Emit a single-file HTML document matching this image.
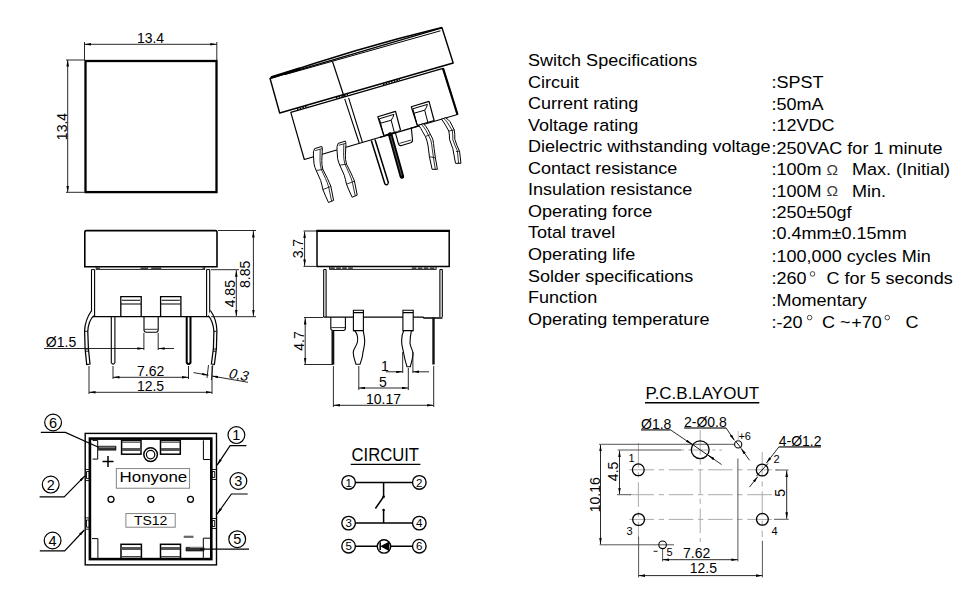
<!DOCTYPE html>
<html><head><meta charset="utf-8">
<style>
html,body{margin:0;padding:0;background:#fff;width:980px;height:597px;overflow:hidden;}
svg{display:block;}
text{font-family:"Liberation Sans",sans-serif;fill:#000;}
.t{stroke:#000;stroke-width:2;fill:none;}
.m{stroke:#000;stroke-width:1.3;fill:none;}
.n{stroke:#000;stroke-width:1;fill:none;}
.d{stroke:#111;stroke-width:0.9;fill:none;}
.g{stroke:#888;stroke-width:0.9;fill:none;}
.w{fill:#fff;stroke:#000;stroke-width:1.1;}
.sp{font-size:17px;}
.dm{font-size:14px;}
</style></head>
<body>
<svg width="980" height="597" viewBox="0 0 980 597">
<defs>
<marker id="a" viewBox="0 0 10 4" refX="10" refY="2" markerWidth="6.5" markerHeight="2.6" orient="auto-start-reverse" markerUnits="userSpaceOnUse"><path d="M0,0 L10,2 L0,4 z" fill="#000"/></marker>
</defs>

<!-- ============ TOP-LEFT SQUARE ============ -->
<g id="sq">
<rect x="85.5" y="61" width="131" height="131.1" class="t" style="stroke-width:2.3"/>
<path class="d" d="M84.5 42V60M216.8 42V60M66 60H84.5M66 192.3H84.5"/>
<path class="d" d="M84.5 44.3H216.8" marker-start="url(#a)" marker-end="url(#a)"/>
<path class="d" d="M67.7 60V192.3" marker-start="url(#a)" marker-end="url(#a)"/>
<text class="dm" x="150.5" y="43" text-anchor="middle">13.4</text>
<text class="dm" transform="translate(67,126.5) rotate(-90)" text-anchor="middle">13.4</text>
</g>

<!-- ============ SPEC TEXT ============ -->
<g class="sp" transform="matrix(1.062,0,0,1,-32.74,0)">
<text x="528" y="66.1">Switch Specifications</text>
<text x="528" y="87.7">Circuit</text>
<text x="528" y="109.2">Current rating</text>
<text x="528" y="130.8">Voltage rating</text>
<text x="528" y="152.3">Dielectric withstanding voltage</text>
<text x="528" y="173.9">Contact resistance</text>
<text x="528" y="195.4">Insulation resistance</text>
<text x="528" y="217.0">Operating force</text>
<text x="528" y="238.5">Total travel</text>
<text x="528" y="260.1">Operating life</text>
<text x="528" y="281.6">Solder specifications</text>
<text x="528" y="303.2">Function</text>
<text x="528" y="324.7">Operating temperature</text>
</g>
<g class="sp" transform="matrix(1.062,0,0,1,-47.833,0)">
<text x="771.5" y="88.5">:SPST</text>
<text x="771.5" y="109.9">:50mA</text>
<text x="771.5" y="131.5">:12VDC</text>
<text x="771.5" y="153.8">:250VAC for 1 minute</text>
<text x="771.5" y="175.4">:100m</text><text x="823.2" y="174.6" style="font-size:14.6px;fill:#3a3a3a">Ω</text><text x="847.2" y="175.4">Max. (Initial)</text>
<text x="771.5" y="196.7">:100M</text><text x="823.2" y="195.9" style="font-size:14.6px;fill:#3a3a3a">Ω</text><text x="847.2" y="196.7">Min.</text>
<text x="771.5" y="218.3">:250±50gf</text>
<text x="771.5" y="239.5">:0.4mm±0.15mm</text>
<text x="771.5" y="261.8">:100,000 cycles Min</text>
<text x="771.5" y="284.2">:260</text><text x="823.2" y="284.2">C for 5 seconds</text>
<text x="771.5" y="305.9">:Momentary</text>
<text x="771.5" y="327.7">:-20</text><text x="819.0" y="327.7">C ~</text><text x="846.6" y="327.7">+70</text><text x="897.7" y="327.7">C</text>
</g>
<g stroke="#333" stroke-width="0.9" fill="none">
<circle cx="812.5" cy="273.9" r="2.3"/><circle cx="809.6" cy="317.6" r="2.3"/><circle cx="887.3" cy="317.6" r="2.3"/>
</g>

<!-- ============ ISO VIEW ============ -->
<g id="iso" stroke="#000" fill="none" stroke-linejoin="round">
<!-- cap -->
<path d="M270 78.3 L442 27.8 L453.2 63 L279.7 113 Z" stroke-width="1.4" fill="#fff"/>
<path d="M270.5 78 Q358 47.8 442 27.5" stroke-width="1.7"/>
<path d="M271 77.6 L300 68.6" stroke-width="2.6"/>
<path d="M285 74.6 L440.5 30.8" stroke-width="1"/>
<path d="M332.5 61.5 L344.5 98" stroke-width="1.2"/>
<!-- body -->
<path d="M290.8 112.3 L443 68.3 L457.5 114.5 L304.3 159.5 Z" stroke-width="1.2" fill="#fff"/>
<path d="M443 68.3 L457.5 114.5" stroke-width="2.2"/>
<path d="M344.7 98.9 L359.2 143 M348.6 97.8 L362.3 142" stroke-width="1.1"/>
<g stroke-width="1.6" stroke-dasharray="1.5 1.3"><path d="M297 109.3 L308 106.1"/><path d="M336 98 L348 94.6"/><path d="M383 84.4 L400 79.4"/></g>
<!-- brackets -->
<g id="brk"><path d="M377.8 116.7 L395.5 111.4 L400.6 130.5 L383.8 135.5 Z" stroke-width="1.2" fill="#fff"/>
<path d="M379.3 118.8 L393.9 114.4 M379.3 118.8 L380.6 123.2 L391.2 120.2 Q393.3 117.5 393.9 114.4 M380.6 123.2 L383.6 134.8 M391.2 120.2 L394.4 132.6" stroke-width="1" fill="none"/></g>
<use href="#brk" transform="translate(33.5,-10)"/>
<path d="M395.2 132.1 L398.5 144 Q399.3 146.2 401.6 145.5 L410.6 142.8 Q412.8 142 412.5 139.8 L411.3 127.6" stroke-width="1.1" fill="#fff"/>
<path d="M399.3 143.4 L411.2 140" stroke-width="0.8"/>
<path d="M380 137.3 L420 125.6" stroke-width="1.2"/>
<!-- pins -->
<g stroke-width="1" fill="#fff">
<g id="pinA"><path d="M314.5 148.7 Q313 152 313.4 154.8 L314 163.8 Q314.8 167.5 316.2 170.5 L320.7 180.6 Q322 185 322.9 189.6 L325.7 196.3 L328.5 202.5 L333.6 200.4 L330.8 186.2 Q329 182 327.4 178.4 L322.9 169.4 Q321.6 165 321.8 160.4 L322.3 150 Q322.4 147.5 321.8 146.4 Z"/>
<path d="M315.2 150.6 L322.2 148.6 M320.2 149.5 L320 160.6 Q320.2 165.5 321.3 169.4 L325.5 178.6 Q327.3 182.5 328.6 186.8 L331.6 201 M316.2 170.5 L322.9 169.4 M322.9 189.6 L330.8 186.4" fill="none" stroke-width="0.8"/></g>
<use href="#pinA" transform="translate(23.6,-5.3)"/>
<path d="M418.7 125.1 Q421 128.5 422.7 131.8 L425.4 136.5 Q427.3 141 428.1 145.9 L429.4 156.6 L432.1 169.3 L437.4 169.3 L435.4 157.9 L434.1 148.5 Q433.6 143 432.8 139.2 L428.1 129.8 Q426 126 423.4 123.8 Z"/>
<path d="M441.5 119.1 Q443.5 122 445.5 125.1 L448.8 131.1 Q449.6 135 449.5 139.2 Q451 144 452.8 148.5 L455.5 163.3 L460.9 163.3 Q460.3 157 459.5 151.2 Q456.5 145 454.8 139.2 Q455 134 454.2 129.8 L450.2 121.8 Q448 119 445.5 117.8 Z"/>
</g>
<path d="M421.5 124.5 Q424 127 426 130.5 L430.8 140 Q431.8 144 432.2 148.7 L433.5 158 L435.3 169.3 M425.4 136.5 L430.5 134.5 M429.4 156.6 L435.4 157.9 M443.8 118.4 Q446.8 121 448.3 124 L452.3 130.5 Q453 135 452.8 139.5 Q454.5 145 457.3 150.5 L458.6 163.3 M448.8 131.1 L454.2 129.8 M456 151.5 L459.5 151.2" stroke-width="0.8"/>
<path d="M371.3 140.5 L384.9 184 M375 139.5 L388.5 183 M384.9 184 Q386.8 186 388.5 183" stroke-width="1.5"/>
<path d="M390.2 134.5 L401.9 176.5" stroke-width="4.6" stroke="#000" stroke-linecap="round"/>
<path d="M390.6 136 L401.6 175.5" stroke-width="0.9" stroke="#666"/>
</g>

<!-- ============ FRONT VIEW ============ -->
<g id="front" stroke="#000" fill="none">
<path d="M84.8 266.8 V232 Q84.8 230.6 86.3 230.6 H215.5 Q217 230.6 217 232 V266.8 Z" stroke-width="1.6" fill="#fff"/>
<path d="M96 269.4 H205 M96.2 267 V269.5 M204.7 267 V269.5" stroke-width="0.9"/>
<path d="M96.5 268.2 H100 M140.5 268.2 H148 M151.2 268.2 H161.2 M202.5 268.2 H204.5" stroke-width="2" stroke="#444"/>
<path d="M91.5 269.6 V316.7 M94.6 269.6 V316.7 M206.6 269.6 V316.7 M209.7 269.6 V316.7" stroke-width="1.1"/>
<path d="M91.5 269.6 H94.6 M206.6 269.6 H209.7" stroke-width="1"/>
<path d="M91.5 316.7 H210" stroke-width="1.3"/>
<!-- brackets -->
<path d="M120.8 316.7 V296.6 H141.2 V316.7 M160.6 316.7 V296.6 H180.9 V316.7" stroke-width="1.3"/>
<path d="M122 300.3 H140 M121 304 H141 M161.8 300.3 H179.8 M161 304 H180.6" stroke-width="1.1"/>
<!-- tab -->
<path d="M144 316.7 V330 Q144 332.2 146.2 332.2 H156 Q158.2 332.2 158.2 330 V316.7" stroke-width="1.1"/>
<path d="M144.5 329.3 H157.7" stroke-width="0.8"/>
<!-- straight pins -->
<path d="M111.3 316.9 V362.8 Q113.1 365.5 114.9 362.8 V316.9" stroke-width="1.1"/>
<path d="M186.7 316.9 V362.6 Q188.6 365.6 190.5 362.6 V316.9" stroke-width="2"/>
<!-- curved pins -->
<path d="M91.3 311 Q85 320 84.6 331 L85.1 348.6 L86.7 364.5 L90 364 L88.4 348.6 L87.8 331.5 Q88.2 321 93.8 315.6" stroke-width="1.25" fill="#fff"/>
<path d="M84.8 331.3 L87.8 331.3 M85.3 349 L88.4 349 M85.5 351.2 L88.6 351.2" stroke-width="0.9"/>
<path d="M210.4 310.5 Q216.5 319 216.9 330.5 L216.4 348.6 L214.4 364.4 L211.4 364 L213.4 348.6 L213.9 331.5 Q213.2 321 208.3 315.6" stroke-width="1.25" fill="#fff"/>
<path d="M216.7 331.3 L213.9 331.3 M216.3 349 L213.3 349 M216.1 351.2 L213.1 351.2" stroke-width="0.9"/>
</g>
<g id="frontdim" class="d">
<path d="M218 230.5 H256 M211 316.7 H256 M211 269.7 H239"/>
<path d="M253.4 231 V316.2" marker-start="url(#a)" marker-end="url(#a)"/>
<path d="M236.3 270.2 V316.2" marker-start="url(#a)" marker-end="url(#a)"/>
<path d="M143.9 333 V350 M158.2 333 V350"/>
<path d="M44 348.5 H143.9" marker-end="url(#a)"/>
<path d="M174 348.5 H158.2" marker-end="url(#a)"/>
<path d="M113 366 V379 M188.5 366 V379 M89 366 V394 M212 366 V394"/>
<path d="M113 377.3 H188.5" marker-start="url(#a)" marker-end="url(#a)"/>
<path d="M89 392.3 H212" marker-start="url(#a)" marker-end="url(#a)"/>
<path d="M208.5 365 L207 378 M212.8 365 L211.5 380"/>
<path d="M193.5 372.6 L208.5 375.2" marker-end="url(#a)"/>
<path d="M248 382.3 L211.8 376" marker-end="url(#a)"/>
</g>
<g class="dm">
<text x="61" y="346.6" text-anchor="middle">Ø1.5</text>
<text x="150.7" y="375.6" text-anchor="middle">7.62</text>
<text x="150.5" y="390.6" text-anchor="middle">12.5</text>
<text transform="translate(227.8,377.8) rotate(10) skewX(-12)" x="0" y="0">0.3</text>
<text transform="translate(249.7,274.3) rotate(-90)" text-anchor="middle">8.85</text>
<text transform="translate(235.2,293.7) rotate(-90)" text-anchor="middle">4.85</text>
</g>

<!-- ============ SIDE VIEW ============ -->
<g id="side" stroke="#000" fill="none">
<path d="M317 266.5 V230.9 H449.2 V266.5 Z" stroke-width="1.5" fill="#fff"/>
<path d="M316.3 230.9 H449.9" stroke-width="2.1"/>
<path d="M329.4 269.4 H436.3 M329.6 267 V269.5 M436.1 267 V269.5" stroke-width="0.9"/>
<path d="M330.2 268.2 H353.9 M411.8 268.2 H436" stroke-width="2" stroke="#444" stroke-dasharray="4.6 1.4"/>
<path d="M323.7 269.5 V317 M326.1 269.5 V317 M439.9 269.5 V317 M442.3 269.5 V317" stroke-width="1.1"/>
<path d="M323.7 269.5 H326.1 M439.9 269.5 H442.3" stroke-width="1"/>
<path d="M323.5 317.2 H423 L424 318 H442.5" stroke-width="1.3"/>
<!-- tab -->
<path d="M330.8 317.3 V328.3 Q330.8 330.5 333 330.5 H343.2 Q345.4 330.5 345.4 328.3 V317.3" stroke-width="1.1"/>
<path d="M331.3 327.6 H345" stroke-width="0.8"/>
<!-- dark pins -->
<path d="M332.9 330.5 V364.5" stroke-width="2.8" stroke="#111"/>
<path d="M433.5 317.5 V364.5" stroke-width="2.4" stroke="#111"/>
<!-- curved pins -->
<path d="M353.4 310.3 H363.4 V330.6 H353.4 Z" stroke-width="1.1" fill="#fff"/><path d="M354.8 330.6 C357.5 334 358 338 357.5 341.5 C357 346 353 349 353.2 352.5 C353.4 357 355 361 356 364.3 L360 364.3 C361 361 362.4 358 362.6 355 C362.8 351 364.8 347 364.7 341 C364.6 336 363.5 333 363.2 330.6" stroke-width="1.1" fill="#fff"/>
<path d="M353.4 312.7 H363.4 M353.4 330.6 H363.4" stroke-width="1.2"/>
<path d="M402.9 310.3 H413.2 V330.6 H402.9 Z" stroke-width="1.1" fill="#fff"/><path d="M403.8 330.6 C402.5 333 401.5 337 401.6 341 C401.7 346 403 349 403.5 352.5 C404.3 357 405.5 362 407 366.8 L410.3 366.8 C411.5 362 412.8 358 413 354 C413.2 350 410 347 410 343 C410 339 410.5 335 411.4 330.6" stroke-width="1.1" fill="#fff"/>
<path d="M402.9 312.7 H413.2 M402.9 330.6 H413.2" stroke-width="1.2"/>
</g>
<g id="sidedim" class="d">
<path d="M303.5 231 H316 M303.5 266.4 H316"/>
<path d="M304.6 231.5 V265.9" marker-start="url(#a)" marker-end="url(#a)"/>
<path d="M304 317.5 H323 M304 364.5 H333.4"/>
<path d="M305.2 318 V364" marker-start="url(#a)" marker-end="url(#a)"/>
<path d="M333.4 366 V407 M433.7 366 V407"/>
<path d="M333.4 405.3 H433.7" marker-start="url(#a)" marker-end="url(#a)"/>
<path d="M358.8 366 V390 M408.3 368 V390"/>
<path d="M358.8 388 H408.3" marker-start="url(#a)" marker-end="url(#a)"/>
<path d="M402.7 352 V373 M412.9 352 V373"/>
<path d="M385.8 371.8 H402.7" marker-end="url(#a)"/>
<path d="M429 371.8 H412.9" marker-end="url(#a)"/>
</g>
<g class="dm">
<text transform="translate(303,248.6) rotate(-90)" text-anchor="middle">3.7</text>
<text transform="translate(303.8,341) rotate(-90)" text-anchor="middle">4.7</text>
<text x="383.5" y="404.2" text-anchor="middle">10.17</text>
<text x="383" y="386.6" text-anchor="middle">5</text>
<text x="385" y="370.9" text-anchor="middle">1</text>
</g>

<!-- ============ TOP VIEW (bottom-left) ============ -->
<g id="top" stroke="#000" fill="none">
<rect x="85.2" y="433.4" width="131.3" height="131.5" stroke-width="1.4"/>
<rect x="89.9" y="438.6" width="121.4" height="120.5" stroke-width="2.6"/>
<!-- corner notches -->
<path d="M92.6 440.4 H97.7 V459.1 H92.6 M203.4 440.3 V459.5 H209.9 M92 538.6 H97.9 V557.9 M203.3 557.9 V538.2 H210" stroke-width="1"/>
<!-- brackets -->
<g stroke-width="1.5">
<rect x="121.6" y="440.2" width="19.4" height="14"/>
<rect x="160.5" y="440.2" width="19.8" height="14"/>
<rect x="121" y="544.3" width="20.4" height="14.2"/>
<rect x="160.5" y="544.3" width="20" height="14.2"/>
</g>
<path d="M122 449.6 H140.6 M161 449.6 H180 M121.5 548.5 H141 M161 548.5 H180" stroke-width="3" stroke="#555"/>
<path d="M122 442.2 H140.6 M161 442.2 H180 M121.5 556.5 H141 M161 556.5 H180" stroke-width="1.2" stroke="#444"/>
<!-- LED -->
<circle cx="150.6" cy="454.6" r="6.8" stroke-width="1.5" fill="#fff"/>
<circle cx="150.6" cy="454.6" r="4.2" stroke-width="1.2"/>
<!-- terminals -->
<path d="M98.5 446.2 H116 V450.2 H98.5 Z" fill="#333" stroke-width="0.6"/>
<path d="M99 447.3 H115" stroke="#999" stroke-width="0.8"/>
<path d="M186 547.3 H204 V551 H186 Z" fill="#333" stroke-width="0.6"/>
<path d="M190 547.5 H203" stroke="#999" stroke-width="0.8"/>
<path d="M102.5 461.5 H113.5 M108 456 V467" stroke-width="1.5"/>
<path d="M183.7 536.8 H193.5" stroke="#666" stroke-width="2.2"/>
<!-- side notches -->
<path d="M85.2 469.5 H90.5 V480.6 H85.2 M86.5 471.5 H89.2 V478.6 H86.5 Z" stroke-width="0.9"/>
<path d="M85.2 517.9 H90.3 V529.2 H85.2 M86.5 520 H89.2 V527.2 H86.5 Z" stroke-width="0.9"/>
<path d="M216 469.5 H211 V479.5 H216 M214.7 471.5 H212.2 V477.5 H214.7 Z" stroke-width="0.9"/>
<path d="M216 518.5 H211 V528.5 H216 M214.7 520.5 H212.2 V526.5 H214.7 Z" stroke-width="0.9"/>
<!-- small circles -->
<circle cx="111" cy="499.3" r="3" stroke-width="1.3"/>
<circle cx="150.8" cy="499.3" r="3" stroke-width="1.3"/>
<circle cx="190.5" cy="499.3" r="3" stroke-width="1.3"/>
<!-- label boxes -->
<rect x="116.3" y="468.6" width="73.3" height="19.6" stroke="#777" stroke-width="0.9"/>
<rect x="125.9" y="513.6" width="49.3" height="13.6" stroke="#777" stroke-width="0.9"/>
</g>
<text x="119.6" y="482.3" style="font-size:15.2px" textLength="67.6" lengthAdjust="spacingAndGlyphs">Honyone</text>
<text x="133.9" y="525" style="font-size:13.6px" textLength="33.4" lengthAdjust="spacingAndGlyphs">TS12</text>
<!-- labels -->
<g stroke="#000" fill="none" stroke-width="1.2">
<circle cx="53.1" cy="422.5" r="8.4"/>
<circle cx="50.7" cy="484.6" r="8.4"/>
<circle cx="52.6" cy="540.5" r="8.4"/>
<circle cx="236.4" cy="435.1" r="8.4"/>
<circle cx="238.4" cy="481" r="8.4"/>
<circle cx="237.2" cy="539.2" r="8.4"/>
<path d="M40.8 432.4 H65.4 L98.5 447.2"/>
<path d="M39.6 496.9 H64.2 L84.9 475.9" marker-end="url(#a)"/>
<path d="M39.8 550.8 H64.7 L84.3 530" marker-end="url(#a)"/>
<path d="M246.4 445.6 H230.1 L217.1 465.2" marker-end="url(#a)"/>
<path d="M247.7 494 H231.4 L217.1 514.1" marker-end="url(#a)"/>
<path d="M200 549.2 H249"/>
</g>
<g style="font-size:14.5px" text-anchor="middle">
<text x="53.1" y="427.7">6</text>
<text x="50.7" y="489.8">2</text>
<text x="52.6" y="545.7">4</text>
<text x="236.4" y="440.3">1</text>
<text x="238.4" y="486.2">3</text>
<text x="237.2" y="544.4">5</text>
</g>

<!-- ============ CIRCUIT ============ -->
<text x="351.5" y="461.1" style="font-size:17.5px" textLength="67.5" lengthAdjust="spacingAndGlyphs">CIRCUIT</text>
<path d="M350.7 464.4 H420.4" stroke="#000" stroke-width="1.4"/>
<g stroke="#000" fill="none" stroke-width="1.35">
<circle cx="348.6" cy="482.4" r="6.8"/>
<circle cx="419.3" cy="482.4" r="6.8"/>
<circle cx="348.6" cy="523.1" r="6.8"/>
<circle cx="419.3" cy="523.1" r="6.8"/>
<circle cx="348.6" cy="546.2" r="6.8"/>
<circle cx="419.3" cy="546.2" r="6.8"/>
<circle cx="384" cy="546.4" r="6.7" stroke-width="1.4"/>
</g>
<g stroke="#000" fill="none" stroke-width="1.5">
<path d="M355.4 482.4 H412.5 M383.6 482.4 V496.8 L375.4 508.5 M383.6 510 V523.1 M355.4 523.1 H412.5 M355.4 546.2 H377.4 M390.6 546.2 H412.5 M380.2 542.3 V550.1"/>
</g>
<circle cx="383.6" cy="496.8" r="1.3" fill="#000"/>
<circle cx="383.6" cy="510" r="1.3" fill="#000"/>
<path d="M380.3 546.3 L389.3 541.5 V551.2 Z" fill="#000"/>
<g style="font-size:11.5px" text-anchor="middle">
<text x="348.6" y="486.5">1</text><text x="419.3" y="486.5">2</text>
<text x="348.6" y="527.2">3</text><text x="419.3" y="527.2">4</text>
<text x="348.6" y="550.3">5</text><text x="419.3" y="550.3">6</text>
</g>

<!-- ============ PCB LAYOUT ============ -->
<text x="645.5" y="399.3" style="font-size:17px" textLength="113.5" lengthAdjust="spacingAndGlyphs">P.C.B.LAYOUT</text>
<path d="M645 402.8 H759.3" stroke="#000" stroke-width="1.4"/>
<g stroke="#aaa" stroke-width="1" fill="none" stroke-dasharray="24.6 4.7 5.3 4.7">
<path d="M629.4 469.8 H778"/>
<path d="M629.4 494.7 H772"/>
<path d="M629.4 519.4 H776"/>
<path d="M681.3 450 H722" stroke-dasharray="3 4 20 4"/>
<path d="M638.4 443 V540"/>
<path d="M700.2 430 V542"/>
<path d="M762.2 452 V537"/>
</g>
<g stroke="#444" stroke-width="0.9" fill="none">
<path d="M617.6 450 H681.3"/>
<path d="M599 444.3 H735"/>
<path d="M599.6 544.8 H674"/>
<path d="M617 494.7 H631"/>
<path d="M737.9 458.5 V561.5"/>
<path d="M662.6 549 V561.5"/>
<path d="M638.6 536.5 V577.5"/>
<path d="M762.4 540.8 V577.5"/>
<path d="M775.2 470 H788.6 M774 519.3 H788.8"/>
</g>
<g class="d">
<path d="M600.5 444.8 V544.3" marker-start="url(#a)" marker-end="url(#a)"/>
<path d="M619.5 450.5 V494.2" marker-start="url(#a)" marker-end="url(#a)"/>
<path d="M786.7 470.5 V518.8" marker-start="url(#a)" marker-end="url(#a)"/>
<path d="M662.6 559.7 H737.9" marker-start="url(#a)" marker-end="url(#a)"/>
<path d="M638.6 575.6 H762.4" marker-start="url(#a)" marker-end="url(#a)"/>
<path d="M641 429.8 H670.4 L691.8 444.3" marker-end="url(#a)"/>
<path d="M721.5 464.5 L708.6 455.5" marker-end="url(#a)"/>
<path d="M684.2 428 H726.1 L734.4 440.4" marker-end="url(#a)"/>
<path d="M749.5 460.3 L741 448.3" marker-end="url(#a)"/>
<path d="M820.8 446.9 H778.9 L766.3 463.2" marker-end="url(#a)"/>
<path d="M749.5 487.1 L757.8 476.6" marker-end="url(#a)"/>
</g>
<path d="M641 429.8 H670.4 M684.2 428 H726.1 M778.9 446.9 H820.8" stroke="#555" stroke-width="1.2"/>
<g stroke="#000" fill="none" stroke-width="1.3">
<circle cx="700.2" cy="449.7" r="8.9"/>
<circle cx="738.2" cy="444.4" r="3.6" stroke-width="1.1"/>
<circle cx="638.3" cy="469.8" r="5.9"/>
<circle cx="762.2" cy="470" r="5.9"/>
<circle cx="638.6" cy="519.5" r="5.9"/>
<circle cx="762.4" cy="519.3" r="5.9"/>
<circle cx="662.6" cy="544.8" r="3.8" stroke-width="1.1"/>
</g>
<path d="M689 442 L712 458 M756.5 476 L768 463.5 M735.6 441.2 L741 447.8" stroke="#000" stroke-width="0.9"/>
<path d="M738.2 431 V440.5" stroke="#bbb" stroke-width="1"/>
<g class="dm">
<text x="641" y="428.6">Ø1.8</text>
<text x="684" y="426.5">2-Ø0.8</text>
<text x="778.7" y="445.5">4-Ø1.2</text>
<text x="683" y="557.7">7.62</text>
<text x="689.8" y="573.1">12.5</text>
<text transform="translate(600,494.8) rotate(-90)" text-anchor="middle">10.16</text>
<text transform="translate(618.2,471.4) rotate(-90)" text-anchor="middle">4.5</text>
<text transform="translate(784.6,492.9) rotate(-90)" text-anchor="middle">5</text>
</g>
<g style="font-size:11px">
<text x="628.5" y="462">1</text>
<text x="773.6" y="462.8">2</text>
<text x="626.4" y="534.5">3</text>
<text x="771.4" y="534.9">4</text>
<text x="666.6" y="555.7">5</text>
<text x="738.4" y="440.2">+6</text>
</g>
<path d="M653.6 551.3 H657.6" stroke="#000" stroke-width="0.9"/>

</svg>
</body></html>
